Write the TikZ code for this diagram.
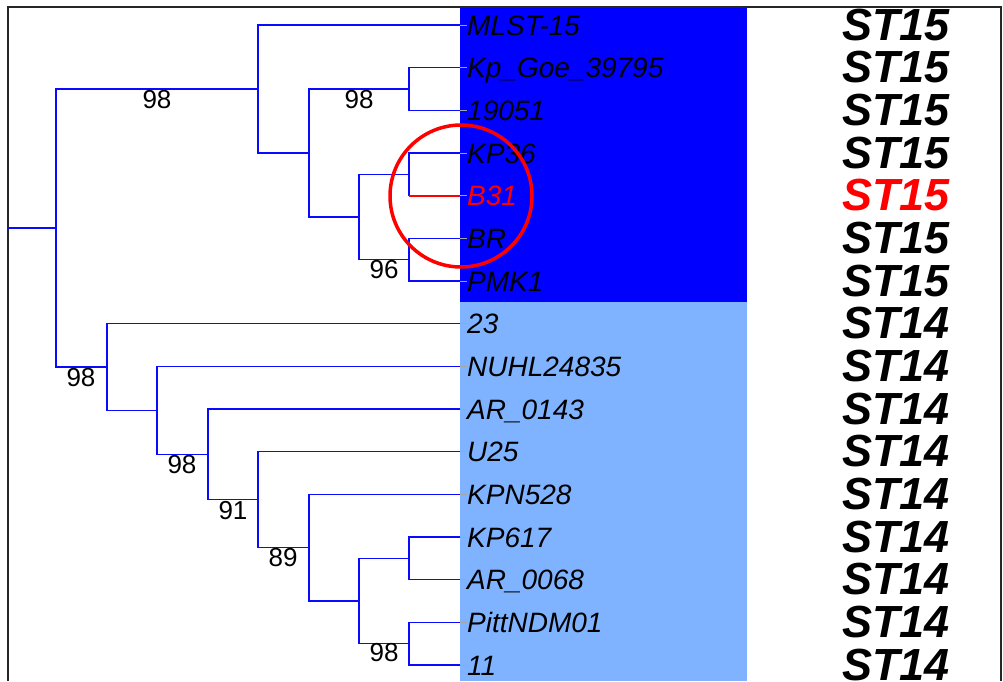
\documentclass[tikz,border=0pt]{standalone}
\usepackage{fontspec}
\setmainfont{Liberation Sans}
\definecolor{dkbox}{RGB}{0,0,255}
\definecolor{ltbox}{RGB}{128,179,255}
\definecolor{brcol}{RGB}{10,10,255}
\begin{document}
\begin{tikzpicture}[x=1pt,y=-1pt,
  branch/.style={draw=brcol,line width=1.3pt},
  redbranch/.style={draw=red,line width=2pt},
  leaflab/.style={anchor=base west,inner sep=0pt,font=\fontsize{28}{28}\selectfont\itshape},
  stlab/.style={anchor=base,inner sep=0pt,font=\fontsize{45}{45}\selectfont\bfseries\itshape},
  boot/.style={inner sep=0pt,font=\fontsize{26}{26}\selectfont},
  tipstub/.style={draw=gray!70,line width=1pt}]
\useasboundingbox (0,0) rectangle (1003,681);
\fill[white] (0,0) rectangle (1003,681);
% coloured clade boxes
\fill[dkbox] (460,7) rectangle (747,302);
\fill[ltbox] (460,302) rectangle (747,681);
% frame
\draw[line width=1.5pt,black!85] (8,681) -- (8,7) -- (1001,7) -- (1001,681);
% leaves
\foreach \n/\lab/\st/\c [count=\i from 0] in {
 l0/MLST-15/ST15/black, l1/Kp\_Goe\_39795/ST15/black, l2/19051/ST15/black,
 l3/KP36/ST15/black, l4/B31/ST15/red, l5/BR/ST15/black, l6/PMK1/ST15/black,
 l7/23/ST14/black, l8/NUHL24835/ST14/black, l9/AR\_0143/ST14/black,
 l10/U25/ST14/black, l11/KPN528/ST14/black, l12/KP617/ST14/black,
 l13/AR\_0068/ST14/black, l14/PittNDM01/ST14/black, l15/11/ST14/black}
{
  \pgfmathsetmacro\yy{25+42.67*\i}
  \coordinate (\n) at (460,\yy);
  \node[leaflab,text=\c] (t\n) at (467,\yy+10) {\lab};
  \node[stlab,text=\c] (s\n) at (896,\yy+15) {\st};
  \draw[tipstub] (\n) -- (\n -| t\n.west);
}
% internal nodes
\coordinate (a1) at (409,89);
\coordinate (a2) at (409,174.3);
\coordinate (a3) at (409,259.7);
\coordinate (a4) at (359,217);
\coordinate (a5) at (309,153);
\coordinate (a6) at (258,89);
\coordinate (b1) at (409,558.3);
\coordinate (b2) at (409,643.7);
\coordinate (b3) at (359,601);
\coordinate (b4) at (309,547.7);
\coordinate (b5) at (258,499.7);
\coordinate (b6) at (208,454.3);
\coordinate (b7) at (157,410.3);
\coordinate (b8) at (107,367);
\coordinate (root) at (56,228);
\coordinate (rootstart) at (8,228);
% branches
\draw[branch] (a1) |- (l1);  \draw[branch] (a1) |- (l2);
\draw[branch] (a2) |- (l3);  \draw[branch] (a2) |- (l4);
\draw[branch] (a3) |- (l5);  \draw[branch] (a3) |- (l6);
\draw[branch] (a4) |- (a2);  \draw[branch] (a4) |- (a3);
\draw[branch] (a5) |- (a1);  \draw[branch] (a5) |- (a4);
\draw[branch] (a6) |- (l0);  \draw[branch] (a6) |- (a5);
\draw[branch] (b1) |- (l12); \draw[branch] (b1) |- (l13);
\draw[branch] (b2) |- (l14); \draw[branch] (b2) |- (l15);
\draw[branch] (b3) |- (b1);  \draw[branch] (b3) |- (b2);
\draw[branch] (b4) |- (l11); \draw[branch] (b4) |- (b3);
\draw[branch] (b5) |- (l10); \draw[branch] (b5) |- (b4);
\draw[branch] (b6) |- (l9);  \draw[branch] (b6) |- (b5);
\draw[branch] (b7) |- (l8);  \draw[branch] (b7) |- (b6);
\draw[branch] (b8) |- (l7);  \draw[branch] (b8) |- (b7);
\draw[branch] (root) |- (a6); \draw[branch] (root) |- (b8);
\draw[branch] (rootstart) -- (root);
\draw[redbranch] (a2 |- l4) -- (l4);
% bootstrap values
\node[boot] (bs1) at (157,100) {98};
\node[boot] (bs2) at (359,100) {98};
\node[boot] (bs3) at (384,270) {96};
\node[boot] (bs4) at (81,378) {98};
\node[boot] (bs5) at (182,465) {98};
\node[boot] (bs6) at (233,511) {91};
\node[boot] (bs7) at (283,558) {89};
\node[boot] (bs8) at (384,653) {98};
% highlight circle
\node[draw=red,line width=3.5pt,circle,minimum size=142pt,inner sep=0pt] (hl) at (461,196) {};
\end{tikzpicture}
\end{document}
